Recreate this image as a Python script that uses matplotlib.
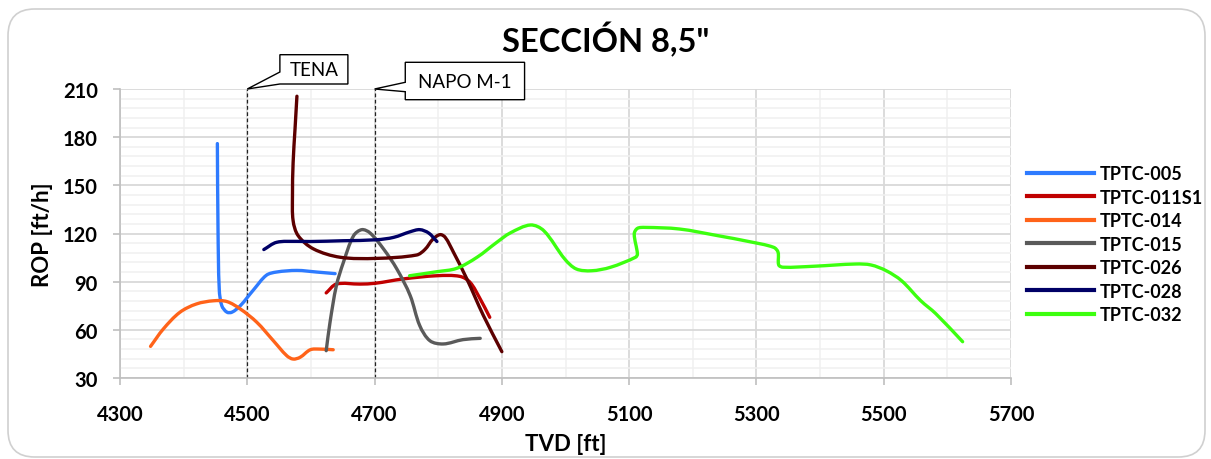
import matplotlib
matplotlib.use("Agg")
import matplotlib.pyplot as plt
import matplotlib.transforms as mtransforms
from matplotlib.path import Path
from matplotlib.patches import PathPatch, Polygon, FancyBboxPatch
from matplotlib.lines import Line2D
import numpy as np

# ---- data: TVD [ft] vs ROP [ft/h] per well ----
wells = ["TPTC-005", "TPTC-011S1", "TPTC-014", "TPTC-015",
         "TPTC-026", "TPTC-028", "TPTC-032"]
colors = ["#2E7BFF", "#C00000", "#FF6319", "#5A5A5A",
          "#5C0000", "#000066", "#3CFF0F"]

tvd_005 = [4453, 4454, 4456, 4460, 4468, 4476, 4489, 4510, 4530, 4546, 4578, 4609, 4638]
rop_005 = [176, 123, 85, 75, 71, 71, 75, 85, 94, 96, 97, 96, 95]

tvd_011 = [4624, 4640, 4677, 4701, 4745, 4798, 4834, 4850, 4866, 4881]
rop_011 = [83, 88.5, 88.5, 89, 91.7, 93.7, 93.3, 89.6, 79.2, 67.8]

tvd_014 = [4348, 4368, 4394, 4420, 4447, 4468, 4489, 4515, 4541, 4562, 4572, 4583, 4599, 4614, 4635]
rop_014 = [49.7, 60.5, 70.9, 76.1, 78.1, 77.6, 73, 64.7, 53.2, 43.9, 41.8, 42.9, 47.6, 48, 47.6]

tvd_015 = [4624, 4630, 4640, 4651, 4667, 4680, 4693, 4714, 4735, 4756, 4771, 4787, 4808, 4839, 4866]
rop_015 = [47, 64.7, 87.5, 102, 118.6, 122.4, 120.3, 110.4, 97.9, 81.3, 62.6, 53.2, 51.2, 53.9, 54.7]

tvd_026 = [4578, 4575, 4572, 4571, 4572, 4580, 4604, 4646, 4703, 4766, 4779,
           4792, 4803, 4811, 4824, 4845, 4871, 4900]
rop_026 = [205.5, 185, 164, 143.5, 128, 118.6, 110.4, 105.2, 104.5, 106.6, 110,
           116.6, 119.3, 117.6, 108.3, 91.7, 68.9, 46.4]

tvd_028 = [4526, 4546, 4578, 4599, 4651, 4703, 4730, 4756, 4771, 4785, 4798]
rop_028 = [110, 114.5, 115.1, 115, 115.5, 116.1, 117.6, 121.1, 122.4, 120.3, 115]

tvd_032 = [4755, 4798, 4829, 4861, 4892, 4913, 4945, 4966, 4999, 5017, 5041, 5071, 5110,
           5113, 5108, 5113, 5125, 5179, 5240, 5288, 5327, 5334, 5335, 5342, 5390, 5456,
           5480, 5504, 5528, 5558, 5582, 5624]
rop_032 = [93.7, 96.2, 98.3, 105.2, 114.5, 120.3, 125.3, 121.7, 104, 97.9, 96.8, 99, 105.2,
           107.2, 119.7, 123.2, 123.8, 122.8, 118.6, 115, 111.4, 108.3, 100.4, 99, 99.6, 101,
           100.4, 96.8, 90.6, 78.2, 70, 52.6]

series_tvd = [tvd_005, tvd_011, tvd_014, tvd_015, tvd_026, tvd_028, tvd_032]
series_rop = [rop_005, rop_011, rop_014, rop_015, rop_026, rop_028, rop_032]

formations = ["TENA", "NAPO M-1"]
formation_tvd = [4500, 4700]

x_ticks = [4300, 4500, 4700, 4900, 5100, 5300, 5500, 5700]
y_ticks = [30, 60, 90, 120, 150, 180, 210]

FONT = "Lato"
W, H = 1211, 460

fig = plt.figure(figsize=(W / 100, H / 100), dpi=100)
fig.patch.set_facecolor("white")

# rounded chart-area border
fig.patches.append(FancyBboxPatch((8 / W, 2 / H), 1197 / W, 448 / H,
                                  boxstyle="round,pad=0,rounding_size=0.022",
                                  transform=fig.transFigure, fc="white",
                                  ec="#D0D0D0", lw=1.2, zorder=-5,
                                  mutation_aspect=W / H))

ax = fig.add_axes([120 / W, 1 - 379 / H, 891 / W, 289 / H])
ax.set_xlim(4300, 5700)
ax.set_ylim(30, 210)
ax.set_facecolor("white")

ax.set_xticks(x_ticks)
ax.set_yticks(y_ticks)
ax.set_xticks(np.arange(4400, 5700, 200), minor=True)
ax.set_yticks(np.arange(30, 211, 6), minor=True)
ax.grid(which="major", color="#D9D9D9", lw=1.3, zorder=0)
ax.grid(which="minor", color="#F0F0F0", lw=1.1, zorder=0)
ax.set_axisbelow(True)
for s in ["top", "right"]:
    ax.spines[s].set_visible(False)
for s in ["left", "bottom"]:
    ax.spines[s].set_color("#BFBFBF")
    ax.spines[s].set_linewidth(1.2)
ax.tick_params(which="major", length=5, color="#BFBFBF", width=1.2)
ax.tick_params(which="minor", length=0)
for lab in ax.get_xticklabels() + ax.get_yticklabels():
    lab.set_fontfamily(FONT)
    lab.set_fontweight("bold")
    lab.set_fontsize(14.5)
ax.tick_params(axis="x", pad=14)
ax.tick_params(axis="y", pad=11)

ax.set_xlabel("TVD [ft]", fontfamily=FONT, fontweight="bold", fontsize=16, labelpad=6)
ax.set_ylabel("ROP [ft/h]", fontfamily=FONT, fontweight="bold", fontsize=16, labelpad=7)

fig.text(606 / W, 1 - 40 / H, "SECCIÓN 8,5\"", ha="center", va="center",
         fontfamily=FONT, fontweight="bold", fontsize=23.5)


def smooth_path(xs, ys):
    """Cubic Bezier path through the points (chord-length Catmull-Rom in screen space)."""
    pts = ax.transData.transform(np.column_stack([xs, ys]))
    n = len(pts)
    seg = np.linalg.norm(np.diff(pts, axis=0), axis=1)
    seg = np.maximum(seg, 1e-6)
    t = np.concatenate([[0], np.cumsum(seg)])
    tang = np.zeros_like(pts)
    tang[0] = (pts[1] - pts[0]) / seg[0]
    tang[-1] = (pts[-1] - pts[-2]) / seg[-1]
    for i in range(1, n - 1):
        tang[i] = (pts[i + 1] - pts[i - 1]) / (t[i + 1] - t[i - 1])
    verts = [pts[0]]
    codes = [Path.MOVETO]
    for i in range(n - 1):
        h = seg[i]
        c1 = pts[i] + tang[i] * h / 3.0
        c2 = pts[i + 1] - tang[i + 1] * h / 3.0
        verts += [c1, c2, pts[i + 1]]
        codes += [Path.CURVE4] * 3
    data_verts = ax.transData.inverted().transform(np.array(verts))
    return Path(data_verts, codes)


for xs, ys, c in zip(series_tvd, series_rop, colors):
    ax.add_patch(PathPatch(smooth_path(xs, ys), fc="none", ec=c, lw=2.4,
                           capstyle="round", joinstyle="round", zorder=3))

# formation tops
for xv in formation_tvd:
    ax.plot([xv, xv], [30, 210], color="#222222", lw=0.9, ls=(0, (3, 2)), zorder=2)

# callout boxes (pixel offsets from the formation top point, y up)
callouts = {
    "TENA": dict(poly=[(32.6, 34.3), (100.6, 34.3), (100.6, 5), (32.6, 5), (0, 0), (32.6, 17)],
                 center=(66.6, 19.7)),
    "NAPO M-1": dict(poly=[(30.7, 26.7), (150, 26.7), (150, -10.7), (30.7, -10.7),
                           (30.7, -2.7), (0, 0), (30.7, 6.7)],
                     center=(90.3, 8)),
}
for name, xv in zip(formations, formation_tvd):
    tr = fig.dpi_scale_trans + mtransforms.ScaledTranslation(xv, 210, ax.transData)
    spec = callouts[name]
    poly = [(px / 100, py / 100) for px, py in spec["poly"]]
    fig.patches.append(Polygon(poly, closed=True, fc="white", ec="black", lw=1.0,
                               transform=tr, zorder=5))
    cx, cy = spec["center"]
    fig.text(cx / 100, cy / 100, name, transform=tr, ha="center", va="center",
             fontfamily=FONT, fontsize=13.5, zorder=6)

handles = [Line2D([], [], color=c, lw=3) for c in colors]
leg = fig.legend(handles, wells, loc="upper left", bbox_to_anchor=(1018 / W, 1 - 157 / H),
                 frameon=False, handlelength=3.7, handletextpad=0.35,
                 labelspacing=0.36, borderpad=0,
                 prop=dict(family=FONT, weight="bold", size=13))

fig.savefig("out.png", dpi=100, facecolor="white")
